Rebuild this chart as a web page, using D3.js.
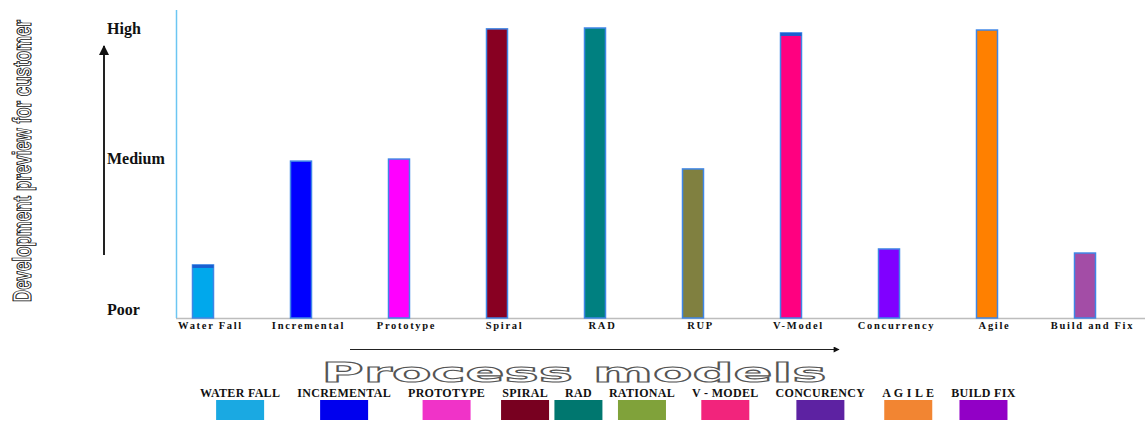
<!DOCTYPE html>
<html>
<head>
<meta charset="utf-8">
<script src="https://cdn.jsdelivr.net/npm/d3@7"></script>
<style>
  html, body { margin: 0; padding: 0; background: #fff; }
  svg { display: block; }
</style>
</head>
<body>
<svg id="chart" width="1145" height="422"></svg>
<script>
// ---- data ----
const categories = ["Water Fall", "Incremental", "Prototype", "Spiral", "RAD", "RUP", "V-Model", "Concurrency", "Agile", "Build and Fix"];
const values = [1.83, 5.41, 5.48, 9.97, 10.0, 5.14, 9.83, 2.38, 9.93, 2.24];
const barColors = ["#00a8ec", "#0000ff", "#ff00ff", "#880022", "#008080", "#808040", "#ff0080", "#8000ff", "#ff8000", "#a34da6"];
const yTickLabels = ["Poor", "Medium", "High"];
const yTickValues = [0.3, 5.5, 10];
const legendLabels = ["WATER FALL", "INCREMENTAL", "PROTOTYPE", "SPIRAL", "RAD", "RATIONAL", "V - MODEL", "CONCURENCY", "A G I L E", "BUILD FIX"];
const legendColors = ["#1aa9e2", "#0000ee", "#f033c8", "#780020", "#00776f", "#80a23a", "#f2247c", "#5d22a2", "#f28532", "#9200c6"];
const yTitle = "Development preview for customer";
const xTitle = "Process models";

const svg = d3.select("#chart");

const x = d3.scalePoint().domain(categories).range([154, 1134]).padding(0.5);
const y = d3.scaleLinear().domain([0, 10]).range([318, 28]);
const barW = 21;

// baseline
svg.append("line").attr("x1", 176).attr("x2", 1145).attr("y1", y(0) + 0.5).attr("y2", y(0) + 0.5)
  .attr("stroke", "#bdbdbd").attr("stroke-width", 1.5);
// y axis line
svg.append("line").attr("x1", 176.5).attr("x2", 176.5).attr("y1", 10).attr("y2", y(0))
  .attr("stroke", "#6cc6f2").attr("stroke-width", 1.5);

// bars
const bars = svg.append("g");
categories.forEach((c, i) => {
  bars.append("rect")
    .attr("x", x(c) - barW / 2)
    .attr("y", y(values[i]))
    .attr("width", barW)
    .attr("height", y(0) - y(values[i]))
    .attr("fill", barColors[i])
    .attr("stroke", "#3f86e6")
    .attr("stroke-width", 1.5);
});
// darker top band on a couple of bars (as in reference)
[0, 6].forEach(i => {
  bars.append("rect")
    .attr("x", x(categories[i]) - barW / 2)
    .attr("y", y(values[i]))
    .attr("width", barW)
    .attr("height", 3)
    .attr("fill", "#1a5fd0");
});

// x tick labels
const xAxis = d3.axisBottom(x).tickSize(0).tickPadding(0);
const gx = svg.append("g").attr("transform", `translate(7, 322)`).call(xAxis);
gx.select(".domain").remove();
gx.selectAll("text")
  .attr("font-family", "Liberation Serif, serif")
  .attr("font-weight", "bold")
  .attr("font-size", 10.5)
  .attr("letter-spacing", 1.7)
  .attr("fill", "#111")
  .attr("dy", "0.71em");

// y tick labels
const gy = svg.append("g");
yTickValues.forEach((v, i) => {
  gy.append("text")
    .attr("x", 107)
    .attr("y", y(v))
    .attr("dy", "0.35em")
    .attr("font-family", "Liberation Serif, serif")
    .attr("font-weight", "bold")
    .attr("font-size", 16)
    .attr("fill", "#111")
    .text(yTickLabels[i]);
});

// arrow markers
const defs = svg.append("defs");
defs.append("marker").attr("id", "ah").attr("viewBox", "0 0 10 10")
  .attr("refX", 9).attr("refY", 5).attr("markerWidth", 6).attr("markerHeight", 5)
  .attr("markerUnits", "strokeWidth").attr("orient", "auto")
  .append("path").attr("d", "M0,0 L10,5 L0,10 z").attr("fill", "#111");
defs.append("marker").attr("id", "ah2").attr("viewBox", "0 0 10 10")
  .attr("refX", 9).attr("refY", 5).attr("markerWidth", 9).attr("markerHeight", 5)
  .attr("markerUnits", "strokeWidth").attr("orient", "auto")
  .append("path").attr("d", "M0,0 L10,5 L0,10 z").attr("fill", "#111");

// y arrow
svg.append("line").attr("x1", 104).attr("x2", 104).attr("y1", 255).attr("y2", 46)
  .attr("stroke", "#222").attr("stroke-width", 2).attr("marker-end", "url(#ah)");
// x arrow
svg.append("line").attr("x1", 350).attr("x2", 839).attr("y1", 349.5).attr("y2", 349.5)
  .attr("stroke", "#222").attr("stroke-width", 1.2).attr("marker-end", "url(#ah2)");

// y title (outlined, condensed): small font stretched across glyph height
svg.append("text")
  .attr("transform", "translate(31,161) rotate(-90) scale(1,1.7)")
  .attr("text-anchor", "middle")
  .attr("font-family", "Liberation Sans Narrow, Liberation Sans, sans-serif")
  .attr("font-weight", "bold")
  .attr("font-size", 15.5)
  .attr("textLength", 282)
  .attr("lengthAdjust", "spacingAndGlyphs")
  .attr("fill", "#fff")
  .attr("stroke", "#111")
  .attr("stroke-width", 0.6)
  .text(yTitle);

// x title (outlined, wide)
svg.append("text")
  .attr("transform", "translate(574,382) scale(1,1.3)")
  .attr("text-anchor", "middle")
  .attr("font-family", "DejaVu Sans, sans-serif")
  .attr("font-weight", "bold")
  .attr("font-size", 20)
  .attr("textLength", 505)
  .attr("lengthAdjust", "spacingAndGlyphs")
  .attr("fill", "#fff")
  .attr("stroke", "#555")
  .attr("stroke-width", 0.8)
  .text(xTitle);

// legend: labels flow left to right, swatch centered under each label
const lg = svg.append("g");
let cursor = 200;
const gap = 17;
legendLabels.forEach((lab, i) => {
  const t = lg.append("text")
    .attr("x", cursor)
    .attr("y", 397)
    .attr("font-family", "Liberation Serif, serif")
    .attr("font-weight", "bold")
    .attr("font-size", 12)
    .attr("letter-spacing", 0.3)
    .attr("fill", "#111")
    .text(lab);
  const w = t.node().getComputedTextLength();
  const cx = cursor + w / 2;
  lg.append("rect")
    .attr("x", cx - 24).attr("y", 400).attr("width", 48).attr("height", 20)
    .attr("fill", legendColors[i]);
  cursor += w + gap;
});
</script>
</body>
</html>
